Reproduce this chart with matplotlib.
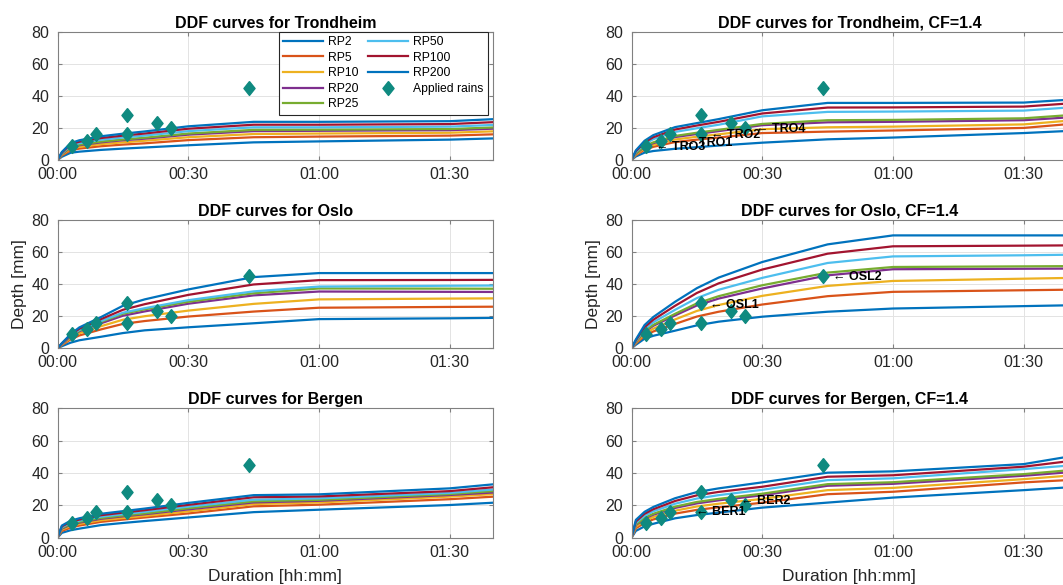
import matplotlib
matplotlib.use("Agg")
import matplotlib.pyplot as plt
from matplotlib.ticker import FuncFormatter

plt.rcParams['font.family'] = ['Liberation Sans', 'DejaVu Sans']

# durations [min] of the DDF table
durations = [0, 1, 3, 5, 10, 15, 20, 30, 45, 60, 90, 120]
rp_labels = ['RP2', 'RP5', 'RP10', 'RP20', 'RP25', 'RP50', 'RP100', 'RP200']
rp_colors = ['#0072BD', '#D95319', '#EDB120', '#7E2F8E', '#77AC30',
             '#4DBEEE', '#A2142F', '#0072BD']

# depths [mm], one row per return period (RP2 ... RP200)
trondheim = [
    [0, 2.0, 4.5, 5.2, 6.3, 7.1, 7.8, 9.2, 11.0, 11.6, 12.7, 15.0],
    [0, 2.8, 6.0, 7.1, 8.6, 9.6, 10.4, 12.4, 14.2, 14.6, 15.2, 17.6],
    [0, 3.2, 7.0, 8.2, 9.9, 11.0, 12.0, 14.2, 16.2, 16.5, 17.0, 19.6],
    [0, 3.6, 7.8, 9.2, 11.0, 12.3, 13.3, 15.8, 18.0, 18.2, 18.6, 21.4],
    [0, 3.8, 8.2, 9.6, 11.5, 12.8, 13.9, 16.5, 18.8, 18.9, 19.3, 22.3],
    [0, 4.2, 9.0, 10.5, 12.6, 14.0, 15.2, 18.0, 20.4, 20.4, 20.8, 24.0],
    [0, 4.6, 9.8, 11.4, 13.7, 15.2, 16.5, 19.5, 22.0, 22.0, 22.4, 26.0],
    [0, 5.0, 10.5, 12.3, 14.8, 16.4, 17.8, 21.0, 23.8, 23.8, 24.2, 28.0],
]
trondheim_cf = [
    [0, 2.2, 4.6, 5.6, 7.0, 8.0, 9.0, 10.8, 12.9, 14.0, 16.8, 20.7],
    [0, 3.0, 6.4, 8.2, 11.2, 12.7, 14.0, 16.8, 17.7, 18.4, 20.0, 27.0],
    [0, 3.5, 7.3, 9.4, 12.8, 14.5, 16.0, 19.2, 20.4, 20.8, 22.2, 29.0],
    [0, 4.0, 8.2, 10.5, 14.3, 16.2, 18.0, 21.7, 23.5, 23.8, 24.8, 30.0],
    [0, 4.2, 8.6, 11.0, 15.0, 17.0, 18.8, 22.5, 24.8, 25.0, 26.0, 31.7],
    [0, 5.0, 10.0, 13.0, 17.5, 19.8, 22.0, 27.2, 30.0, 30.2, 30.8, 36.5],
    [0, 5.5, 11.0, 14.2, 19.0, 21.5, 23.8, 29.0, 32.7, 32.8, 33.3, 39.0],
    [0, 6.0, 12.0, 15.5, 20.5, 23.0, 25.5, 31.0, 35.6, 35.6, 35.8, 41.0],
]
oslo = [
    [0, 1.3, 3.5, 5.0, 7.2, 9.5, 11.2, 13.1, 15.6, 18.2, 18.7, 19.5],
    [0, 2.0, 5.5, 8.0, 11.8, 15.2, 17.0, 19.8, 22.9, 25.3, 25.8, 26.2],
    [0, 2.3, 6.4, 9.4, 13.8, 17.8, 20.0, 23.5, 27.7, 30.5, 31.0, 31.4],
    [0, 2.6, 7.2, 10.6, 15.6, 20.3, 23.0, 27.8, 33.0, 35.4, 35.2, 35.0],
    [0, 2.7, 7.5, 11.0, 16.5, 21.5, 24.3, 29.0, 34.3, 37.3, 37.2, 37.0],
    [0, 2.8, 7.8, 11.5, 17.0, 22.2, 25.0, 30.0, 35.5, 38.5, 39.0, 39.4],
    [0, 3.0, 8.2, 12.2, 18.2, 24.0, 27.5, 33.3, 39.8, 42.5, 42.6, 42.8],
    [0, 3.2, 8.8, 13.0, 19.5, 26.5, 30.5, 36.7, 44.4, 46.9, 46.9, 46.9],
]
oslo_cf = [
    [0, 2.2, 6.0, 7.8, 11.0, 14.3, 16.6, 19.7, 22.8, 24.8, 26.3, 27.8],
    [0, 3.0, 7.8, 10.5, 15.2, 19.8, 22.8, 27.3, 32.5, 35.2, 36.2, 37.2],
    [0, 3.5, 9.0, 12.2, 18.0, 23.3, 27.0, 32.7, 38.9, 42.0, 43.4, 44.8],
    [0, 4.0, 10.3, 14.0, 20.5, 26.7, 31.0, 37.3, 45.5, 49.3, 49.6, 49.9],
    [0, 4.2, 10.8, 14.6, 21.5, 28.0, 32.5, 39.3, 47.2, 50.7, 51.1, 51.5],
    [0, 4.6, 12.0, 16.2, 24.0, 31.3, 36.5, 43.9, 53.2, 57.3, 58.0, 59.0],
    [0, 5.0, 13.2, 17.8, 26.5, 34.5, 40.5, 49.1, 59.0, 63.6, 64.0, 64.5],
    [0, 5.5, 14.5, 19.5, 29.0, 37.5, 44.1, 53.8, 64.8, 70.4, 70.4, 70.4],
]
bergen = [
    [0, 3.0, 4.6, 5.6, 7.8, 9.1, 10.3, 12.5, 15.8, 17.3, 20.2, 24.5],
    [0, 4.2, 6.2, 7.5, 9.8, 11.2, 12.5, 15.0, 19.4, 20.4, 23.8, 28.5],
    [0, 5.0, 7.2, 8.5, 10.8, 12.2, 13.5, 16.3, 20.8, 21.8, 25.4, 30.0],
    [0, 5.6, 8.0, 9.3, 11.7, 13.2, 14.5, 17.5, 21.8, 22.8, 26.4, 31.0],
    [0, 6.0, 8.5, 9.8, 12.2, 13.7, 15.0, 18.2, 22.5, 23.4, 27.0, 32.5],
    [0, 6.5, 9.2, 10.5, 13.0, 14.5, 16.0, 19.2, 23.5, 24.3, 27.7, 34.0],
    [0, 7.0, 9.8, 11.2, 13.9, 15.5, 17.0, 20.3, 25.0, 25.5, 28.8, 36.0],
    [0, 7.5, 10.5, 12.0, 14.8, 16.4, 18.0, 21.5, 26.3, 26.8, 30.5, 38.0],
]
bergen_cf = [
    [0, 4.2, 7.0, 8.6, 12.0, 14.0, 15.5, 18.6, 21.7, 24.8, 29.4, 34.5],
    [0, 5.8, 9.2, 11.3, 14.9, 17.2, 18.8, 21.6, 26.9, 28.4, 34.2, 38.4],
    [0, 6.8, 10.5, 12.8, 16.7, 19.3, 21.0, 24.0, 29.4, 30.8, 36.2, 42.5],
    [0, 7.8, 11.8, 14.2, 18.4, 21.2, 23.1, 26.2, 32.1, 33.3, 38.3, 44.6],
    [0, 8.2, 12.3, 14.8, 19.2, 22.1, 24.0, 27.2, 33.1, 34.3, 39.3, 46.3],
    [0, 9.2, 13.6, 16.3, 21.0, 24.2, 26.3, 29.6, 35.6, 36.7, 42.4, 48.8],
    [0, 10.0, 14.8, 17.6, 22.7, 26.2, 28.3, 31.5, 37.7, 38.6, 43.9, 53.8],
    [0, 11.0, 16.0, 19.0, 24.4, 28.2, 30.5, 34.2, 40.2, 41.0, 45.5, 59.0],
]

# applied rain events
rain_dur = [3.3, 6.8, 8.8, 15.9, 15.9, 22.9, 26.0, 44.0]
rain_depth = [9, 12, 16, 28, 16, 23, 20, 45]

# event labels on the CF panels (x [min], y [mm], text)
tro_labels = [(5.6, 8.3, 'TRO3'), (11.8, 10.8, 'TRO1'),
              (18.2, 15.6, 'TRO2'), (28.6, 19.2, 'TRO4')]
osl_labels = [(18.1, 27.3, 'OSL1'), (46.2, 44.5, 'OSL2')]
ber_labels = [(14.8, 15.9, 'BER1'), (25.1, 22.8, 'BER2')]

panels = [
    ('DDF curves for Trondheim', trondheim, []),
    ('DDF curves for Trondheim, CF=1.4', trondheim_cf, tro_labels),
    ('DDF curves for Oslo', oslo, []),
    ('DDF curves for Oslo, CF=1.4', oslo_cf, osl_labels),
    ('DDF curves for Bergen', bergen, []),
    ('DDF curves for Bergen, CF=1.4', bergen_cf, ber_labels),
]

W, H = 1063, 585
fig = plt.figure(figsize=(W / 100, H / 100), dpi=100)

col_left = [57.5, 631.5]
col_w = 435.8
rows = [(31.7, 160.0), (220.0, 348.3), (408.3, 537.7)]

txt_col = '#262626'
diamond = [(0, 1), (0.8, 0), (0, -1), (-0.8, 0), (0, 1)]


def hhmm(v, pos):
    v = int(round(v))
    return '%02d:%02d' % (v // 60, v % 60)


for i, (title, data, labels) in enumerate(panels):
    r, c = divmod(i, 2)
    top, bot = rows[r]
    ax = fig.add_axes([col_left[c] / W, 1 - bot / H, col_w / W, (bot - top) / H])

    for k, vals in enumerate(data):
        ax.plot(durations, vals, color=rp_colors[k], lw=1.6, label=rp_labels[k])
    ax.plot(rain_dur, rain_depth, marker=diamond, color='#0f8a80', ms=10,
            ls='none', label='Applied rains')

    for x, y, s in labels:
        ax.text(x, y, '\u2190 ' + s, fontsize=9, fontweight='bold',
                ha='left', va='center', color='black')

    ax.set_xlim(0, 100)
    ax.set_ylim(0, 80)
    ax.set_xticks([0, 30, 60, 90])
    ax.set_yticks([0, 20, 40, 60, 80])
    ax.xaxis.set_major_formatter(FuncFormatter(hhmm))
    ax.grid(True, color='#e3e3e3', lw=0.7)
    ax.set_axisbelow(True)
    ax.tick_params(direction='in', length=3, labelsize=11.5, colors='#808080',
                   labelcolor=txt_col, top=True, right=True)
    ax.tick_params(axis='x', pad=5)
    ax.tick_params(axis='y', pad=6)
    for sp in ax.spines.values():
        sp.set_color('#808080')
        sp.set_linewidth(0.8)
    ax.set_title(title, fontsize=11.5, fontweight='bold', pad=3)
    if r == 1:
        ax.set_ylabel('Depth [mm]', fontsize=12.5, color=txt_col, labelpad=3)
    if r == 2:
        ax.set_xlabel('Duration [hh:mm]', fontsize=12.5, color=txt_col, labelpad=7)

    if i == 0:
        leg = ax.legend(ncol=2, loc='upper right', bbox_to_anchor=(0.987, 1.0),
                        fontsize=8.7, frameon=True, fancybox=False,
                        edgecolor='#262626', framealpha=1, handlelength=3.3,
                        labelspacing=0.3, columnspacing=0.8, borderpad=0.35,
                        handletextpad=0.4, borderaxespad=0)
        leg.get_frame().set_linewidth(0.8)

fig.savefig('out.png', dpi=100)
